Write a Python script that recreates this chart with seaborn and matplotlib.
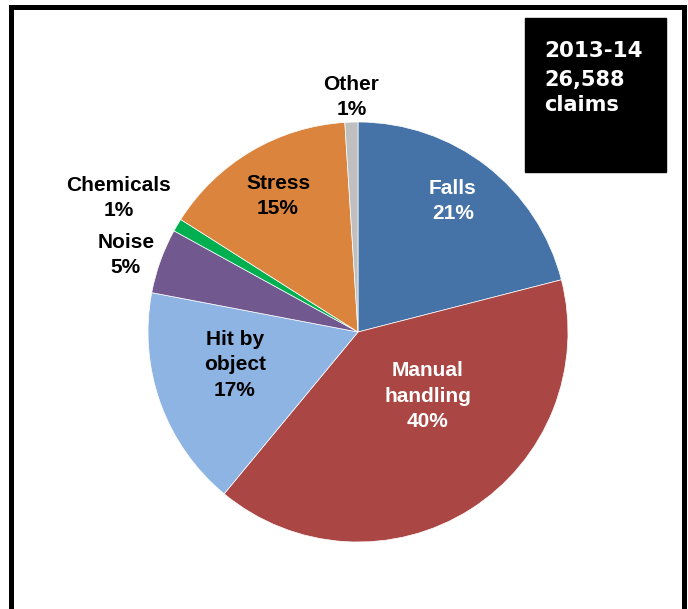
import matplotlib
matplotlib.use("Agg")
import matplotlib.pyplot as plt
from matplotlib.patches import Rectangle
import seaborn as sns

# Claims by cause, 2013-14 (percent of all claims)
causes = ["Falls", "Manual\nhandling", "Hit by\nobject", "Noise", "Chemicals", "Stress", "Other"]
shares = [21, 40, 17, 5, 1, 15, 1]
colors = ["#4572A7", "#AA4643", "#8EB4E3", "#71588F", "#00B050", "#DB843D", "#BFBFBF"]
label_colors = ["white", "white", "black", "black", "black", "black", "black"]
# label anchor points in pie units (radius = 1)
label_pos = [(0.452, 0.624), (0.333, -0.305), (-0.586, -0.157), (-1.105, 0.367),
             (-1.140, 0.638), (-0.381, 0.648), (-0.031, 1.119)]

year_label = "2013-14"
claims_label = "26,588\nclaims"

sns.set_theme(style="white")
plt.rcParams["font.family"] = ["Liberation Sans", "DejaVu Sans"]

W, H = 688, 609
fig = plt.figure(figsize=(W / 100, H / 100), dpi=100)
fig.patch.set_facecolor("white")

# pie axes: centre (358, 332) px, radius 210 px
cx, cy, r = 358, 332, 210
ax = fig.add_axes([(cx - r) / W, (H - cy - r) / H, 2 * r / W, 2 * r / H])
palette = sns.color_palette(colors)
ax.pie(shares, colors=palette, startangle=90, counterclock=False,
       wedgeprops=dict(edgecolor="white", linewidth=0.5))
ax.set_xlim(-1, 1)
ax.set_ylim(-1, 1)
ax.set_aspect("equal")
ax.axis("off")

for name, val, (lx, ly), tc in zip(causes, shares, label_pos, label_colors):
    ax.text(lx, ly, f"{name}\n{val}%", ha="center", va="center", color=tc,
            fontsize=15, fontweight="bold", linespacing=1.42)

# outer frame (runs past the bottom edge)
fig.add_artist(Rectangle((11.5 / W, -0.05), (684 - 11.5) / W, 1.05 - 6.5 / H,
                         transform=fig.transFigure, fill=False,
                         edgecolor="#000000", linewidth=3.6, zorder=5))

# black info box
bx0, by0, bx1, by1 = 525, 18, 666, 172
fig.add_artist(Rectangle((bx0 / W, 1 - by1 / H), (bx1 - bx0) / W, (by1 - by0) / H,
                         transform=fig.transFigure, facecolor="black",
                         edgecolor="black", zorder=6))
fig.text(544 / W, 1 - 41 / H, year_label, ha="left", va="top", color="white",
         fontsize=15.5, fontweight="bold", family="DejaVu Sans", zorder=7)
fig.text(544 / W, 1 - 70 / H, claims_label, ha="left", va="top", color="white",
         fontsize=15, fontweight="bold", family="DejaVu Sans",
         linespacing=1.3, zorder=7)

fig.savefig("out.png", dpi=100, facecolor="white")
